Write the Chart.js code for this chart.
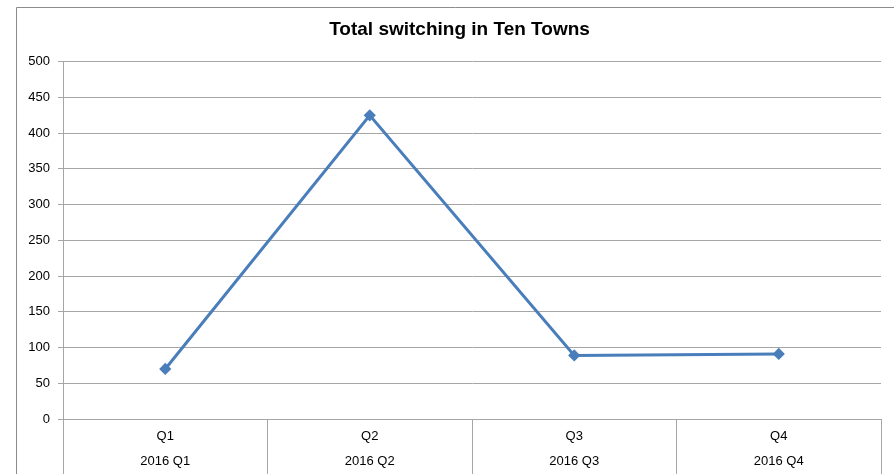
<!DOCTYPE html>
<html>
<head>
<meta charset="utf-8">
<script src="https://cdn.jsdelivr.net/npm/chart.js@4/dist/chart.umd.min.js"></script>
<style>
  html, body { margin: 0; padding: 0; background: #fff; }
  #wrap { width: 894px; height: 474px; }
</style>
</head>
<body>
<div id="wrap"><canvas id="switchChart" width="894" height="474"></canvas></div>
<script>
// data
const quarters = ['Q1', 'Q2', 'Q3', 'Q4'];
const periods = ['2016 Q1', '2016 Q2', '2016 Q3', '2016 Q4'];
const switching = [70, 425, 89, 91];
const yTicks = [0, 50, 100, 150, 200, 250, 300, 350, 400, 450, 500];

const gridGrey = '#a6a6a6';
const fontFamily = 'Liberation Sans, Arial, sans-serif';

// the grey frame round the chart, and a small nudge so the title sits like the original
const framePlugin = {
    id: 'frame',
    afterLayout(chart) {
        const t = chart.titleBlock;
        if (t) { t.left += 7; t.right += 7; }
    },
    beforeDraw(chart) {
        const ctx = chart.ctx;
        ctx.save();
        ctx.strokeStyle = '#8c8c8c';
        ctx.lineWidth = 1;
        ctx.beginPath();
        ctx.moveTo(16.5, chart.height);
        ctx.lineTo(16.5, 7.5);
        ctx.lineTo(chart.width, 7.5);
        ctx.stroke();
        ctx.restore();
    }
};

const ctx = document.getElementById('switchChart').getContext('2d');

new Chart(ctx, {
    type: 'line',
    data: {
        labels: quarters.map((q, i) => [q, periods[i]]),
        datasets: [{
            label: 'Total switching',
            data: switching,
            borderColor: '#4a7ebb',
            backgroundColor: '#4a7ebb',
            borderWidth: 3,
            pointStyle: 'rectRot',
            pointRadius: 4,
            pointHoverRadius: 4,
            tension: 0,
            fill: false
        }]
    },
    options: {
        responsive: false,
        animation: false,
        devicePixelRatio: 1,
        layout: {
            padding: { left: 24, right: 13, top: 0, bottom: 0 }
        },
        plugins: {
            legend: { display: false },
            tooltip: { enabled: false },
            title: {
                display: true,
                text: 'Total switching in Ten Towns',
                color: '#000',
                font: { family: fontFamily, size: 19, weight: 'bold' },
                padding: { top: 18.6, bottom: 20.3 }
            }
        },
        scales: {
            x: {
                offset: true,
                grid: {
                    offset: true,
                    drawOnChartArea: false,
                    color: gridGrey,
                    tickLength: 55
                },
                border: { color: gridGrey },
                ticks: {
                    color: '#000',
                    padding: -50,
                    maxRotation: 0,
                    font: { family: fontFamily, size: 13, lineHeight: '25px' }
                },
                afterFit(scale) { scale.height = 55; }
            },
            y: {
                min: 0,
                max: 500,
                afterBuildTicks(scale) { scale.ticks = yTicks.map(v => ({ value: v })); },
                grid: { color: gridGrey, tickLength: 5 },
                border: { color: gridGrey },
                ticks: {
                    color: '#000',
                    padding: 8,
                    font: { family: fontFamily, size: 13 }
                },
                afterFit(scale) { scale.width = 39; }
            }
        }
    },
    plugins: [framePlugin]
});
</script>
</body>
</html>
